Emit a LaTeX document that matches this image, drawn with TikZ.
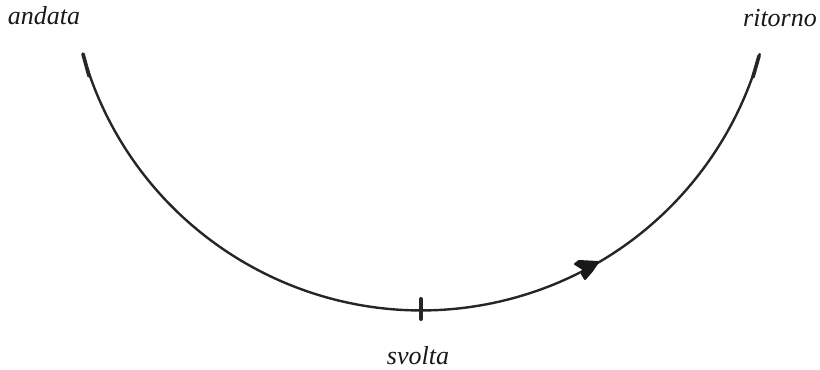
\documentclass[tikz,border=0pt]{standalone}
\usepackage{fontspec}
\setmainfont{Liberation Serif}
\tikzset{
  lbl/.style={inner sep=0pt,font=\fontsize{19.5pt}{22pt}\selectfont\itshape,text=black!90},
  curveline/.style={draw=black!85,line width=1.8pt,line cap=round},
  endcap/.style={draw=black!85,line width=2.7pt,line cap=round},
  tickmark/.style={draw=black!85,line width=3pt,line cap=round},
  headblob/.style={fill=black!90,draw=black!90,line width=1.5pt,line join=round}
}
\begin{document}
\begin{tikzpicture}[x=0.75pt,y=0.75pt]
\useasboundingbox (0,0) rectangle (820,369);
\fill[white] (0,0) rectangle (820,369);
\coordinate (s) at (83,315);
\coordinate (e) at (759,313);
\coordinate (s2) at (89,293);
\coordinate (e2) at (753,292);
\coordinate (tt) at (421,70);
\coordinate (tb) at (421,50);
\node[lbl] (andata) at (44,353) {andata};
\node[lbl] (ritorno) at (780,351) {ritorno};
\node[lbl] (svolta) at (418,13) {svolta};
\draw[curveline] (s) arc[start angle=195.7,end angle=344.3,radius=263.6pt];
\draw[endcap] (s) -- (s2);
\draw[endcap] (e) -- (e2);
\draw[tickmark] (tt) -- (tb);
\draw[headblob] (575,105) -- (579,108) -- (598,107) -- (592,98) -- (585,90) -- (582,95) -- (583,100) -- cycle;
\end{tikzpicture}
\end{document}
